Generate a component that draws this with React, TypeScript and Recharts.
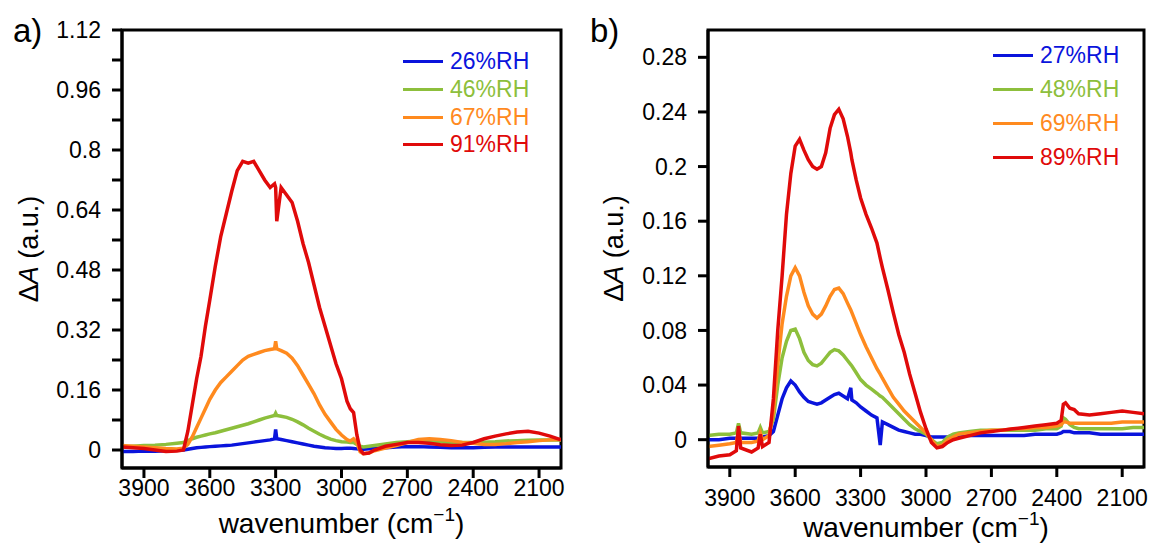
import React from 'react';
import { LineChart, Line, XAxis, YAxis, ReferenceArea, Legend, Label } from 'recharts';

// panel a) wavenumber grid (cm-1) and ΔA per humidity
const wnA = [
  4000, 3950, 3900, 3850, 3800, 3750, 3720, 3700, 3680, 3660,
  3640, 3620, 3600, 3575, 3550, 3525, 3500, 3475, 3450, 3425,
  3400, 3375, 3350, 3325, 3305, 3300, 3295, 3275, 3250, 3225,
  3200, 3175, 3150, 3125, 3100, 3075, 3050, 3025, 3000, 2975,
  2960, 2945, 2930, 2915, 2900, 2875, 2850, 2800, 2750, 2700,
  2650, 2600, 2550, 2500, 2450, 2400, 2350, 2300, 2250, 2200,
  2150, 2100, 2050, 2000,
];
const rh26A = [
  -0.004, -0.004, -0.003, -0.003, -0.002, -0.001, 0.0, 0.002, 0.004, 0.006,
  0.007, 0.008, 0.009, 0.01, 0.011, 0.012, 0.013, 0.015, 0.017, 0.019,
  0.021, 0.023, 0.025, 0.027, 0.03, 0.055, 0.03, 0.028, 0.025, 0.022,
  0.019, 0.016, 0.013, 0.01, 0.008, 0.006, 0.005, 0.004, 0.004, 0.005,
  0.005, 0.004, 0.003, 0.002, 0.002, 0.003, 0.004, 0.006, 0.008, 0.009,
  0.009, 0.008, 0.007, 0.006, 0.006, 0.006, 0.007, 0.008, 0.008, 0.008,
  0.008, 0.008, 0.008, 0.008,
];
const rh46A = [
  0.008, 0.01, 0.012, 0.013, 0.015, 0.018, 0.02, 0.025, 0.03, 0.034,
  0.037, 0.04, 0.043, 0.046, 0.05, 0.054, 0.058, 0.062, 0.066, 0.07,
  0.075, 0.08, 0.085, 0.089, 0.092, 0.098, 0.092, 0.09, 0.087, 0.082,
  0.075, 0.067, 0.058, 0.05, 0.042, 0.035, 0.029, 0.025, 0.022, 0.021,
  0.02, 0.02, 0.015, 0.01, 0.008, 0.01, 0.012, 0.016, 0.02, 0.022,
  0.024, 0.024, 0.022, 0.02, 0.02, 0.02, 0.021, 0.022, 0.024, 0.025,
  0.026, 0.027, 0.027, 0.027,
];
const rh67A = [
  0.012, 0.01, 0.008, 0.006, 0.004, 0.003, 0.005, 0.015, 0.035, 0.06,
  0.085, 0.11, 0.135, 0.16, 0.18, 0.195, 0.21, 0.225, 0.24, 0.25,
  0.255, 0.26, 0.265, 0.268, 0.27, 0.29, 0.27, 0.265, 0.258, 0.245,
  0.225, 0.2, 0.175, 0.15, 0.12, 0.095, 0.075, 0.055, 0.04, 0.028,
  0.024, 0.03, 0.02, -0.005, -0.01, -0.008, -0.002, 0.005, 0.012, 0.02,
  0.028, 0.03, 0.028, 0.025, 0.02, 0.018, 0.015, 0.015, 0.017, 0.02,
  0.022, 0.025, 0.027, 0.028,
];
const rh91A = [
  0.008, 0.006, 0.004, 0.0, -0.004, -0.003, 0.0, 0.05, 0.12, 0.19,
  0.25, 0.33, 0.4, 0.49, 0.57, 0.63, 0.69, 0.745, 0.77, 0.765,
  0.77, 0.745, 0.72, 0.7, 0.71, 0.7, 0.61, 0.7, 0.68, 0.66,
  0.61, 0.55, 0.5, 0.44, 0.38, 0.33, 0.28, 0.23, 0.19, 0.13,
  0.11, 0.1, 0.04, 0.0, -0.01, -0.008, 0.0, 0.01, 0.015, 0.02,
  0.02, 0.018, 0.014, 0.012, 0.013, 0.02, 0.03, 0.037, 0.043, 0.048,
  0.05, 0.045, 0.037, 0.027,
];

// panel b) wavenumber grid (cm-1) and ΔA per humidity
const wnB = [
  4000, 3950, 3900, 3870, 3860, 3850, 3800, 3770, 3760, 3750,
  3720, 3700, 3680, 3660, 3640, 3620, 3600, 3580, 3560, 3540,
  3520, 3500, 3480, 3460, 3440, 3420, 3400, 3380, 3360, 3345,
  3340, 3320, 3300, 3275, 3250, 3225, 3210, 3200, 3175, 3150,
  3125, 3100, 3075, 3050, 3025, 3000, 2975, 2950, 2925, 2900,
  2875, 2850, 2800, 2750, 2700, 2650, 2600, 2550, 2500, 2450,
  2400, 2380, 2370, 2360, 2340, 2320, 2300, 2250, 2200, 2150,
  2100, 2050, 2000,
];
const rh27B = [
  0.0, 0.0, 0.001, 0.001, 0.001, 0.001, 0.001, 0.001, 0.001, 0.002,
  0.003, 0.006, 0.018, 0.03, 0.038, 0.043, 0.04, 0.035, 0.031, 0.028,
  0.027, 0.026, 0.027, 0.029, 0.031, 0.033, 0.034, 0.032, 0.03, 0.038,
  0.029, 0.027, 0.024, 0.021, 0.018, 0.016, -0.004, 0.013, 0.011, 0.009,
  0.007, 0.006, 0.005, 0.004, 0.004, 0.003, 0.002, 0.002, 0.002, 0.002,
  0.003, 0.003, 0.003, 0.003, 0.003, 0.003, 0.003, 0.003, 0.004, 0.004,
  0.004, 0.005, 0.006, 0.006, 0.006, 0.005, 0.005, 0.005, 0.004, 0.004,
  0.004, 0.004, 0.004,
];
const rh48B = [
  0.003, 0.004, 0.004, 0.005, 0.012, 0.005, 0.004, 0.005, 0.009, 0.005,
  0.006, 0.015, 0.04, 0.06, 0.072, 0.08, 0.081, 0.074, 0.064, 0.058,
  0.055, 0.054, 0.056, 0.06, 0.064, 0.066, 0.065, 0.062, 0.058, 0.055,
  0.054, 0.049, 0.044, 0.04, 0.037, 0.034, 0.032, 0.031, 0.027, 0.023,
  0.019, 0.015, 0.011, 0.008, 0.006, 0.004, 0.0, -0.003, -0.002, 0.002,
  0.004, 0.005, 0.006, 0.007, 0.007, 0.007, 0.007, 0.007, 0.007, 0.008,
  0.008, 0.01, 0.016, 0.015, 0.011, 0.009, 0.008, 0.008, 0.008, 0.008,
  0.008, 0.009, 0.009,
];
const rh69B = [
  -0.005, -0.004, -0.003, -0.002, 0.006, -0.002, -0.002, -0.001, 0.005, 0.0,
  0.003, 0.02, 0.055, 0.085, 0.105, 0.12, 0.126, 0.12, 0.108, 0.098,
  0.092, 0.089, 0.092, 0.098, 0.105, 0.11, 0.111, 0.107, 0.1, 0.095,
  0.093, 0.085, 0.077, 0.068, 0.06, 0.052, 0.048, 0.045, 0.038, 0.031,
  0.026, 0.021, 0.017, 0.013, 0.009, 0.005, 0.0, -0.005, -0.004, 0.0,
  0.002, 0.004, 0.005, 0.006, 0.007, 0.007, 0.008, 0.008, 0.009, 0.009,
  0.01, 0.011, 0.013, 0.013, 0.012, 0.012, 0.012, 0.012, 0.012, 0.012,
  0.013, 0.013, 0.013,
];
const rh89B = [
  -0.014, -0.012, -0.011, -0.008, 0.01, -0.006, -0.009, -0.006, 0.004, -0.005,
  -0.002, 0.03, 0.08, 0.12, 0.165, 0.195, 0.215, 0.22, 0.212, 0.205,
  0.2, 0.198, 0.2, 0.21, 0.228, 0.238, 0.242, 0.235, 0.222, 0.21,
  0.205, 0.19, 0.177, 0.165, 0.155, 0.144, 0.133, 0.126, 0.11, 0.093,
  0.077, 0.064, 0.048, 0.034, 0.02, 0.008, -0.002, -0.006, -0.005, -0.002,
  0.0, 0.001, 0.003, 0.005, 0.006, 0.007, 0.008, 0.009, 0.01, 0.011,
  0.012, 0.014, 0.026, 0.027, 0.023, 0.022, 0.019, 0.018, 0.019, 0.02,
  0.021, 0.02, 0.019,
];

const xTicks = [3900, 3600, 3300, 3000, 2700, 2400, 2100];
const yTicksA = [0, 0.08, 0.16, 0.24, 0.32, 0.4, 0.48, 0.56, 0.64, 0.72, 0.8, 0.88, 0.96, 1.04, 1.12];
const yTicksB = [0, 0.04, 0.08, 0.12, 0.16, 0.2, 0.24, 0.28];

const BLUE = '#0a14dc';
const GREEN = '#8dbf3c';
const ORANGE = '#ff8a1e';
const RED = '#e00a0a';

const rowsA = wnA.map((wn, i) => ({ wn, rh26: rh26A[i], rh46: rh46A[i], rh67: rh67A[i], rh91: rh91A[i] }));
const rowsB = wnB.map((wn, i) => ({ wn, rh27: rh27B[i], rh48: rh48B[i], rh69: rh69B[i], rh89: rh89B[i] }));

const seriesA = [
  { key: 'rh26', name: '26%RH', color: BLUE },
  { key: 'rh46', name: '46%RH', color: GREEN },
  { key: 'rh67', name: '67%RH', color: ORANGE },
  { key: 'rh91', name: '91%RH', color: RED },
];
const seriesB = [
  { key: 'rh27', name: '27%RH', color: BLUE },
  { key: 'rh48', name: '48%RH', color: GREEN },
  { key: 'rh69', name: '69%RH', color: ORANGE },
  { key: 'rh89', name: '89%RH', color: RED },
];

const FONT = '"Liberation Sans", Arial, Helvetica, sans-serif';
const black = { stroke: '#000', strokeWidth: 3 };

const fmt = (v: number) => String(Number(v.toFixed(2)));

const YTitle = ({ viewBox, baseX }: any) => {
  const cy = viewBox.y + viewBox.height / 2;
  return (
    <text x={baseX} y={cy} transform={`rotate(-90 ${baseX} ${cy})`} textAnchor="middle" fontSize={27} fill="#000">
      Δ<tspan fontStyle="italic">A</tspan> (a.u.)
    </text>
  );
};

const XTitle = ({ viewBox, baseDy }: any) => {
  const cx = viewBox.x + viewBox.width / 2;
  return (
    <text x={cx} y={viewBox.y + baseDy} textAnchor="middle" fontSize={28} fill="#000">
      wavenumber (cm<tspan fontSize={19} dy={-12}>−1</tspan>
      <tspan dy={12}>)</tspan>
    </text>
  );
};

const legendContent = (rowHeight: number) => (props: any) => (
  <div style={{ fontFamily: FONT }}>
    {(props.payload || []).map((entry: any) => (
      <div key={entry.value} style={{ display: 'flex', alignItems: 'center', height: rowHeight }}>
        <span style={{ display: 'inline-block', width: 40, height: 3, background: entry.color, marginRight: 7 }} />
        <span style={{ color: entry.color, fontSize: 23, lineHeight: 1 }}>{entry.value}</span>
      </div>
    ))}
  </div>
);

const Panel = ({ rows, series, yDomain, yTicks, minorEvery, width, yAxisWidth, right, xHeight, tickMarginX, yTitleX, xTitleDy, legendPos, rowHeight }: any) => (
  <LineChart width={width} height={545} data={rows} margin={{ top: 30, right, bottom: 0, left: 0 }}>
    <XAxis
      dataKey="wn"
      type="number"
      domain={[2000, 4000]}
      reversed
      ticks={xTicks}
      allowDataOverflow
      height={xHeight}
      tickSize={10}
      tickMargin={tickMarginX}
      axisLine={black}
      tickLine={black}
      tick={{ fontSize: 23, fill: '#000' }}
    >
      <Label content={<XTitle baseDy={xTitleDy} />} />
    </XAxis>
    <YAxis
      type="number"
      domain={yDomain}
      ticks={yTicks}
      allowDataOverflow
      width={yAxisWidth}
      tickSize={10}
      tickMargin={11}
      axisLine={black}
      tickLine={black}
      tick={{ fontSize: 23, fill: '#000' }}
      tickFormatter={(v: number, i: number) => (i % minorEvery === 0 ? fmt(v) : '')}
    >
      <Label content={<YTitle baseX={yTitleX} />} />
    </YAxis>
    <ReferenceArea x1={4000} x2={2000} y1={yDomain[0]} y2={yDomain[1]} fill="none" stroke="#000" strokeWidth={3} />
    {series.map((s: any) => (
      <Line
        key={s.key}
        dataKey={s.key}
        name={s.name}
        stroke={s.color}
        strokeWidth={3.5}
        dot={false}
        type="linear"
        isAnimationActive={false}
      />
    ))}
    <Legend
      layout="horizontal"
      verticalAlign="middle"
      align="center"
      content={legendContent(rowHeight)}
      wrapperStyle={{ top: legendPos.top, left: legendPos.left, width: 150 }}
    />
  </LineChart>
);

export default function App() {
  return (
    <div style={{ position: 'absolute', left: 0, top: 0, width: 1154, height: 545, background: '#fff', fontFamily: FONT }}>
      <div style={{ position: 'absolute', left: 0, top: 0 }}>
        <Panel
          rows={rowsA}
          series={seriesA}
          yDomain={[-0.048, 1.12]}
          yTicks={yTicksA}
          minorEvery={2}
          width={580}
          yAxisWidth={122}
          right={19}
          xHeight={77}
          tickMarginX={2}
          yTitleX={38}
          xTitleDy={65}
          legendPos={{ top: 48, left: 403 }}
          rowHeight={27.7}
        />
      </div>
      <div style={{ position: 'absolute', left: 580, top: 0 }}>
        <Panel
          rows={rowsB}
          series={seriesB}
          yDomain={[-0.02, 0.3]}
          yTicks={yTicksB}
          minorEvery={1}
          width={574}
          yAxisWidth={128}
          right={10}
          xHeight={78}
          tickMarginX={13}
          yTitleX={43}
          xTitleDy={70}
          legendPos={{ top: 38, left: 413 }}
          rowHeight={34}
        />
      </div>
      <div style={{ position: 'absolute', left: 13, top: 14, fontSize: 33, lineHeight: 1 }}>a)</div>
      <div style={{ position: 'absolute', left: 590, top: 14, fontSize: 33, lineHeight: 1 }}>b)</div>
    </div>
  );
}
